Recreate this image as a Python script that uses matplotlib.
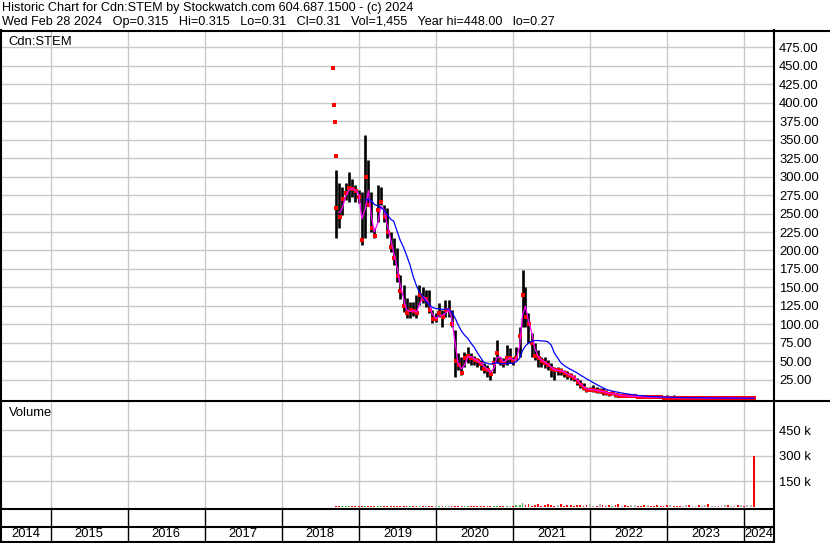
import matplotlib.pyplot as plt
from matplotlib.lines import Line2D
import numpy as np
import pandas as pd

plt.rcParams['font.family'] = ['Liberation Sans', 'DejaVu Sans']

W, H = 830, 543

# first few prints, close only
first_days = ['2018-09-03', '2018-09-06', '2018-09-10', '2018-09-13']
first_close = [446, 397, 373, 328]

# semi-monthly bars from 2018-09-15 to 2024-02-15
hi = [309, 291, 286, 291, 306, 297, 288, 282, 279, 356,
      322, 279, 230, 288, 286, 261, 257, 225, 217, 203,
      167, 153, 136, 130, 130, 140, 153, 151, 147, 147,
      120, 115, 129, 120, 133, 133, 120, 93, 61, 56,
      63, 70, 61, 58, 55, 52, 48, 45, 39, 56,
      79, 56, 55, 72, 68, 56, 70, 97, 174, 151,
      115, 88, 75, 65, 56, 56, 52, 48, 43, 43,
      41, 39, 37, 34, 32, 28, 25, 21, 16, 16,
      18, 16, 14, 14, 11, 9, 9, 7, 7, 6,
      6, 5, 5, 4, 4, 3.5, 3.5, 3, 3, 2.8,
      2.5, 2.5, 2.2, 5, 2, 5, 2, 1.8, 1.8, 1.6,
      1.6, 1.5, 1.5, 1.4, 1.4, 1.3, 1.2, 1.2, 1.1, 1.1,
      4, 1.0, 1.0, 0.9, 0.9, 0.8, 0.8, 0.7, 0.7, 1.5,
      0.5]
lo = [217, 231, 248, 268, 265, 272, 265, 264, 207, 217,
      261, 225, 217, 238, 261, 238, 217, 198, 180, 157,
      135, 117, 109, 109, 112, 109, 126, 129, 124, 115,
      102, 103, 110, 97, 110, 110, 97, 29, 38, 32,
      43, 48, 45, 45, 43, 39, 34, 29, 25, 34,
      48, 45, 43, 45, 48, 45, 52, 56, 97, 97,
      75, 56, 52, 43, 43, 41, 39, 29, 25, 32,
      32, 29, 27, 25, 23, 18, 14, 11, 9, 11,
      9, 7, 7, 5, 5, 3, 5, 2, 2, 2,
      2, 2, 2, 1.5, 1.5, 1.2, 1.2, 1.0, 1.0, 1.0,
      0.9, 0.9, 0.8, 0.8, 0.8, 0.8, 0.7, 0.7, 0.7, 0.6,
      0.6, 0.6, 0.5, 0.5, 0.5, 0.5, 0.45, 0.45, 0.4, 0.4,
      0.4, 0.4, 0.35, 0.35, 0.35, 0.3, 0.3, 0.3, 0.3, 0.27,
      0.27]
cl = [257, 245, 270, 278, 285, 283, 280, 272, 214, 300,
      262, 230, 220, 255, 265, 245, 225, 205, 190, 165,
      145, 125, 115, 120, 118, 115, 140, 135, 135, 120,
      108, 108, 115, 110, 120, 120, 100, 50, 45, 35,
      55, 58, 55, 52, 50, 47, 40, 38, 33, 48,
      62, 50, 48, 55, 55, 50, 55, 85, 140, 110,
      100, 75, 58, 55, 50, 48, 45, 40, 38, 38,
      37, 35, 32, 30, 28, 22, 18, 14, 12, 12,
      12, 10, 10, 9, 8, 6, 7, 5, 4, 4,
      3.5, 3, 3, 3, 2.5, 2.2, 2, 2, 1.8, 1.6,
      1.5, 1.4, 1.3, 1.2, 1.2, 1.1, 1.0, 0.9, 0.9, 0.9,
      0.8, 0.8, 0.8, 0.7, 0.7, 0.7, 0.6, 0.6, 0.6, 0.5,
      0.5, 0.5, 0.45, 0.45, 0.45, 0.4, 0.4, 0.35, 0.35, 0.35,
      0.31]
# volume in thousands
vol_k = [6, 5, 7, 4, 6, 5, 8, 4, 7, 6,
         5, 6, 4, 5, 7, 6, 5, 4, 6, 5,
         7, 6, 4, 5, 6, 5, 4, 6, 5, 7,
         5, 6, 4, 5, 6, 5, 7, 6, 5, 4,
         6, 5, 6, 4, 5, 6, 7, 5, 4, 6,
         5, 6, 5, 4, 6, 7, 10, 14, 22, 9,
         15, 8, 12, 18, 6, 10, 20, 9, 7, 12,
         16, 8, 9, 14, 6, 11, 10, 7, 12, 19,
         8, 6, 15, 9, 7, 13, 8, 10, 18, 6,
         9, 7, 11, 14, 8, 6, 9, 12, 7, 5,
         10, 8, 6, 9, 12, 5, 7, 8, 6, 14,
         10, 5, 7, 9, 6, 11, 16, 8, 6, 7,
         9, 13, 10, 6, 8, 12, 9, 7, 10, 14,
         300]

years = list(range(2014, 2025))
price_ticks = list(range(25, 476, 25))
vol_ticks = [150, 300, 450]

title1 = "Historic Chart for Cdn:STEM by Stockwatch.com 604.687.1500 - (c) 2024"
title2 = ("Wed Feb 28 2024   Op=0.315   Hi=0.315   Lo=0.31   Cl=0.31   "
          "Vol=1,455   Year hi=448.00   lo=0.27")


def dec_year(d):
    d = pd.DatetimeIndex(d)
    return np.asarray(d.year + (d.dayofyear - 1) / 365.25)


dates = pd.date_range('2018-09-15', periods=len(cl), freq='SMS')
x = dec_year(dates)
x0 = dec_year(first_days)
close = pd.Series(cl)
ma_short = close.rolling(2).mean()
ma_long = close.rolling(10).mean()

xmin, xmax = 2014.351, 2024.379


def fx(px):
    return px / W


def fy(py):
    return 1 - py / H


fig = plt.figure(figsize=(W / 100, H / 100), dpi=100)
fs = 9.4
grid_c = '#c8c8c8'

# price panel
ax = fig.add_axes([fx(0.5), fy(401), fx(773.5 - 0.5), (401 - 30) / H])
ax.set_xlim(xmin, xmax)
ax.set_ylim(-3.4, 498)
ax.set_xticks(years[1:])
ax.set_yticks(price_ticks)
ax.set_yticklabels(['%.2f' % v for v in price_ticks])
ax.yaxis.tick_right()
ax.tick_params(axis='y', length=0, pad=4, labelsize=fs)
ax.tick_params(axis='x', length=0, labelbottom=False)
ax.grid(True, color=grid_c, lw=1.0)
ax.set_axisbelow(True)
for s in ax.spines.values():
    s.set_visible(False)

ax.vlines(x, lo, hi, color='black', lw=1.9, zorder=2)
ax.plot(x + 0.006, cl, 's', color='red', ms=2.4, mew=0, zorder=3)
ax.plot(x0, first_close, 's', color='red', ms=2.4, mew=0, zorder=3)
ax.plot(x, ma_short, color='#ff00ff', lw=0.9, zorder=4)
ax.plot(x, ma_long, color='#0000ff', lw=0.9, zorder=4)
ax.text(8 / 773, 1 - 12 / 371, 'Cdn:STEM', transform=ax.transAxes,
        fontsize=fs, va='center', ha='left')

# volume panel
vx = fig.add_axes([fx(0.5), fy(509), fx(773.5 - 0.5), (509 - 401) / H])
vol = np.array(vol_k) * 1000
chg = np.diff(np.concatenate([[first_close[-1]], cl]))
vcol = np.where(chg > 0, '#3cb43c', np.where(chg < 0, '#ff0000', '#b4b4b4'))
vx.bar(x, vol, width=0.024, color=vcol, zorder=2)
vx.set_xlim(xmin, xmax)
vx.set_ylim(-11765, 623529)
vx.set_xticks(years[1:])
vx.set_yticks([v * 1000 for v in vol_ticks])
vx.set_yticklabels(['%d k' % v for v in vol_ticks])
vx.yaxis.tick_right()
vx.tick_params(axis='y', length=0, pad=4, labelsize=fs)
vx.tick_params(axis='x', length=0, labelbottom=False)
vx.grid(True, color=grid_c, lw=1.0)
vx.set_axisbelow(True)
for s in vx.spines.values():
    s.set_visible(False)
vx.text(8 / 773, 1 - 12 / 108, 'Volume', transform=vx.transAxes,
        fontsize=fs, va='center', ha='left')

# year strip
yx = fig.add_axes([fx(0.5), fy(541.5), fx(773.5 - 0.5), (541.5 - 509) / H])
yx.set_xlim(xmin, xmax)
yx.set_ylim(0, 1)
yx.axis('off')
yx.vlines(years[1:], 0, 1, color='black', lw=1.0)
for yr in years:
    a, b = max(yr, xmin), min(yr + 1, xmax)
    yx.text((a + b) / 2, 0.24, str(yr), ha='center', va='center', fontsize=fs)


# frame lines
def hline(py, x1=0, x2=W, lw=1.5):
    fig.add_artist(Line2D([fx(x1), fx(x2)], [fy(py), fy(py)],
                          color='black', lw=lw, transform=fig.transFigure))


def vline(px, y1, y2, lw=1.5):
    fig.add_artist(Line2D([fx(px), fx(px)], [fy(y1), fy(y2)],
                          color='black', lw=lw, transform=fig.transFigure))


hline(30.5)
hline(401)
hline(509, 0, 773.5)
hline(527, 0, 773.5)
hline(541.5, 0, 773.5)
vline(0.7, 30, 543)
vline(773.5, 30, 543)

fig.text(fx(2), fy(8), title1, fontsize=9.1, va='center', ha='left')
fig.text(fx(2), fy(22), title2, fontsize=9.1, va='center', ha='left')

plt.savefig('out.png', dpi=100)
